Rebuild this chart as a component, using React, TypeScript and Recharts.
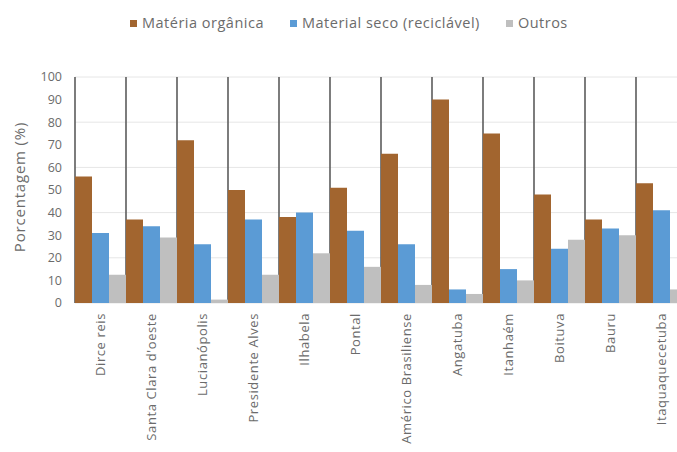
import React from 'react'
import { BarChart, Bar, XAxis, YAxis, CartesianGrid, Legend, Label } from 'recharts'

// municipalities (x categories)
const municipios = [
  'Dirce reis',
  "Santa Clara d'oeste",
  'Lucianópolis',
  'Presidente Alves',
  'Ilhabela',
  'Pontal',
  'Américo Brasiliense',
  'Angatuba',
  'Itanhaém',
  'Boituva',
  'Bauru',
  'Itaquaquecetuba',
]

// percentages
const materiaOrganica = [56, 37, 72, 50, 38, 51, 66, 90, 75, 48, 37, 53]
const materialSeco = [31, 34, 26, 37, 40, 32, 26, 6, 15, 24, 33, 41]
const outros = [12.5, 29, 1.5, 12.5, 22, 16, 8, 4, 10, 28, 30, 6]

const yTicks = [0, 10, 20, 30, 40, 50, 60, 70, 80, 90, 100]

const series = [
  { key: 'organica', name: 'Matéria orgânica', color: '#A2652F' },
  { key: 'seco', name: 'Material seco (reciclável)', color: '#5B9BD5' },
  { key: 'outros', name: 'Outros', color: '#BFBFBF' },
]

const data = municipios.map((name, i) => ({
  name,
  organica: materiaOrganica[i],
  seco: materialSeco[i],
  outros: outros[i],
}))

const FONT = '"Open Sans", sans-serif'
const TEXT = '#6b6b6b'

function renderLegend() {
  return (
    <div style={{ display: 'flex', paddingLeft: 130, fontFamily: FONT, fontSize: 14.5, letterSpacing: 0.5, color: TEXT, lineHeight: '20px' }}>
      {series.map((s) => (
        <div key={s.key} style={{ display: 'flex', alignItems: 'center', marginRight: 26 }}>
          <span style={{ width: 7, height: 7, background: s.color, marginRight: 5, display: 'inline-block' }} />
          <span>{s.name}</span>
        </div>
      ))}
    </div>
  )
}

function XTick({ x, y, payload }: any) {
  return (
    <g transform={`translate(${x},${y})`}>
      <text transform="rotate(-90)" textAnchor="end" dy="0.35em" fill={TEXT} fontSize={13} letterSpacing={0.6} fontFamily={FONT}>
        {payload.value}
      </text>
    </g>
  )
}

// dark separators at the category boundaries
const boundaryLines = ({ offset }: any) =>
  municipios.map((_, i) => offset.left + (i * offset.width) / municipios.length).concat(offset.left + offset.width)

export default function App() {
  return (
    <div style={{ position: 'fixed', top: 0, left: 0, width: 677, height: 452, overflow: 'hidden', background: '#fff' }}>
      <BarChart
        width={700}
        height={452}
        data={data}
        margin={{ top: 57, right: 13, left: 0, bottom: 0 }}
        barCategoryGap={0}
        barGap={0}
      >
        <CartesianGrid vertical={false} stroke="#e6e6e6" />
        <CartesianGrid horizontal={false} stroke="#5c5c5c" strokeWidth={1.6} verticalCoordinatesGenerator={boundaryLines} />
        <XAxis
          dataKey="name"
          interval={0}
          height={149}
          axisLine={false}
          tickLine={false}
          tickMargin={4}
          tick={<XTick />}
        />
        <YAxis
          width={75}
          domain={[0, 100]}
          ticks={yTicks}
          axisLine={false}
          tickLine={false}
          tickMargin={7}
          tick={{ fill: TEXT, fontSize: 12.5, fontFamily: FONT }}
        >
          <Label
            content={() => (
              <text
                x={20}
                y={187}
                transform="rotate(-90 20 187)"
                textAnchor="middle"
                dy="0.35em"
                fill={TEXT}
                fontSize={15}
                letterSpacing={0.8}
                fontFamily={FONT}
              >
                Porcentagem (%)
              </text>
            )}
          />
        </YAxis>
        <Legend verticalAlign="top" content={renderLegend} wrapperStyle={{ top: 13, left: 0 }} />
        {series.map((s) => (
          <Bar key={s.key} dataKey={s.key} name={s.name} fill={s.color} isAnimationActive={false} />
        ))}
      </BarChart>
    </div>
  )
}
